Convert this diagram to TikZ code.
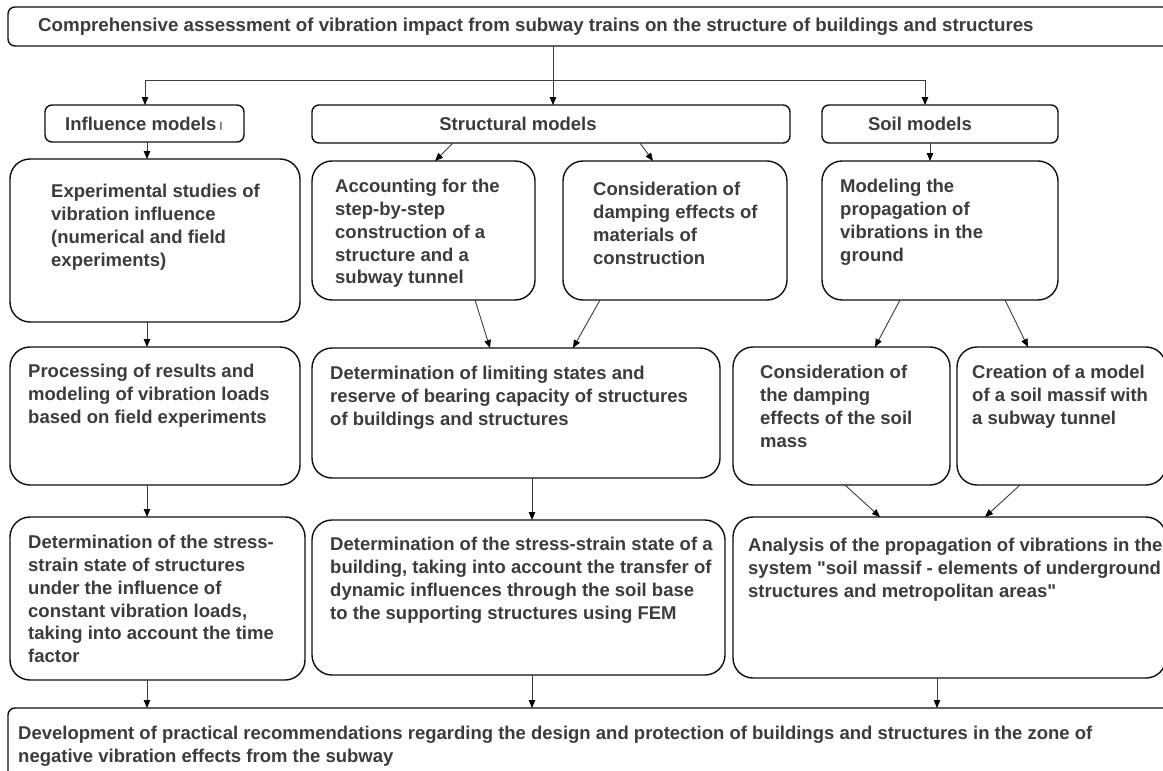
\documentclass[tikz,border=0pt]{standalone}
\usepackage{fontspec}
\setmainfont{Liberation Sans}[Ligatures=TeXOff]
\usetikzlibrary{arrows.meta}
\definecolor{txt}{RGB}{60,60,60}
\definecolor{edge}{RGB}{15,15,15}
\definecolor{conn}{RGB}{60,60,60}
\newcommand\mkbox[6]{\node[#6, anchor=north west, minimum width=#4pt-#2pt, minimum height=#5pt-#3pt] (#1) at (#2,#3) {};}
\begin{document}
\begin{tikzpicture}[x=1pt,y=-1pt,
  bigbox/.style={draw=edge, line width=1.4pt, rounded corners=20pt, inner sep=0pt, outer sep=0pt},
  hbox/.style={draw=edge, line width=1.4pt, rounded corners=7pt, inner sep=0pt, outer sep=0pt},
  lbl/.style={anchor=north west, inner sep=0pt, align=left, text=txt, font=\bfseries\fontsize{18.5}{22.8}\selectfont},
  hlbl/.style={inner sep=0pt, text=txt, font=\bfseries\fontsize{18.5}{20}\selectfont},
  conline/.style={draw=conn, line width=0.9pt},
  arr/.style={draw=conn, line width=0.9pt, -{Triangle[length=8pt,width=6.5pt,color=black]}}]
\useasboundingbox (0,0) rectangle (1163,771);
\clip (0,0) rectangle (1163,771);
\fill[white] (0,0) rectangle (1163,771);
% boxes
\mkbox{title}{8}{7}{1200}{46}{hbox}
\mkbox{infl}{45}{105}{244}{142}{hbox}
\mkbox{struct}{312}{105}{790}{143}{hbox}
\mkbox{soil}{822}{105}{1058}{143}{hbox}
\mkbox{exp}{10}{159}{300}{322}{bigbox}
\mkbox{acc}{312}{161}{535}{300}{bigbox}
\mkbox{damp}{563}{161}{787}{300}{bigbox}
\mkbox{prop}{822}{161}{1058}{300}{bigbox}
\mkbox{proc}{10}{347}{300}{485}{bigbox}
\mkbox{lim}{312}{348}{720}{478}{bigbox}
\mkbox{dsoil}{733}{347}{950}{485}{bigbox}
\mkbox{crea}{957}{347}{1166}{485}{bigbox}
\mkbox{sse}{10}{517}{305}{680}{bigbox}
\mkbox{ssb}{312}{520}{725}{675}{bigbox}
\mkbox{anl}{733}{517}{1166}{678}{bigbox}
\mkbox{rec}{8}{708}{1200}{800}{hbox}
% texts
\node[lbl, font=\bfseries\fontsize{18.7}{22}\selectfont] (ttitle) at (38,18) {Comprehensive assessment of vibration impact from subway trains on the structure of buildings and structures};
\node[hlbl] (tinfl) at (144,124) {Influence models\,{\rmfamily\mdseries\fontsize{12}{12}\selectfont I}};
\node[hlbl] (tstruct) at (518,124) {Structural models};
\node[hlbl] (tsoil) at (920,124) {Soil models};
\node[lbl] (texp) at (51,184) {Experimental studies of\\vibration influence\\(numerical and field\\experiments)};
\node[lbl] (tacc) at (335,179) {Accounting for the\\step-by-step\\construction of a\\structure and a\\subway tunnel};
\node[lbl] (tdamp) at (593,182) {Consideration of\\damping effects of\\materials of\\construction};
\node[lbl] (tprop) at (840,179) {Modeling the\\propagation of\\vibrations in the\\ground};
\node[lbl] (tproc) at (28,364) {Processing of results and\\modeling of vibration loads\\based on field experiments};
\node[lbl] (tlim) at (330,366) {Determination of limiting states and\\reserve of bearing capacity of structures\\of buildings and structures};
\node[lbl] (tdsoil) at (760,365) {Consideration of\\the damping\\effects of the soil\\mass};
\node[lbl] (tcrea) at (972,365) {Creation of a model\\of a soil massif with\\a subway tunnel};
\node[lbl] (tsse) at (28,535) {Determination of the stress-\\strain state of structures\\under the influence of\\constant vibration loads,\\taking into account the time\\factor};
\node[lbl] (tssb) at (330,537) {Determination of the stress-strain state of a\\building, taking into account the transfer of\\dynamic influences through the soil base\\to the supporting structures using FEM};
\node[lbl] (tanl) at (748,538) {Analysis of the propagation of vibrations in the\\system "soil massif - elements of underground\\structures and metropolitan areas"};
\node[lbl] (trec) at (18,726) {Development of practical recommendations regarding the design and protection of buildings and structures in the zone of\\negative vibration effects from the subway};
% connectors
\coordinate (j1) at (145,80);
\coordinate (j2) at (925,80);
\coordinate (t1) at (553,0);
\draw[conline] (j1) -- (j2);
\draw[arr] (j1) -- (j1 |- infl.north);
\draw[arr] (j2) -- (j2 |- soil.north);
\draw[arr] (t1 |- title.south) -- (t1 |- struct.north);
\draw[arr] (147,0 |- infl.south) -- (147,0 |- exp.north);
\draw[arr] (453,0 |- struct.south) -- (435,0 |- acc.north);
\draw[arr] (640,0 |- struct.south) -- (653,0 |- damp.north);
\draw[arr] (930,0 |- soil.south) -- (930,0 |- prop.north);
\draw[arr] (147,0 |- exp.south) -- (147,0 |- proc.north);
\draw[arr] (475,0 |- acc.south) -- (490,0 |- lim.north);
\draw[arr] (600,0 |- damp.south) -- (573,0 |- lim.north);
\draw[arr] (900,0 |- prop.south) -- (875,0 |- dsoil.north);
\draw[arr] (1005,0 |- prop.south) -- (1028,0 |- crea.north);
\draw[arr] (147,0 |- proc.south) -- (147,0 |- sse.north);
\draw[arr] (532,0 |- lim.south) -- (532,0 |- ssb.north);
\draw[arr] (845,0 |- dsoil.south) -- (880,0 |- anl.north);
\draw[arr] (1020,0 |- crea.south) -- (985,0 |- anl.north);
\draw[arr] (147,0 |- sse.south) -- (147,0 |- rec.north);
\draw[arr] (532,0 |- ssb.south) -- (532,0 |- rec.north);
\draw[arr] (937,0 |- anl.south) -- (937,0 |- rec.north);
\end{tikzpicture}
\end{document}
